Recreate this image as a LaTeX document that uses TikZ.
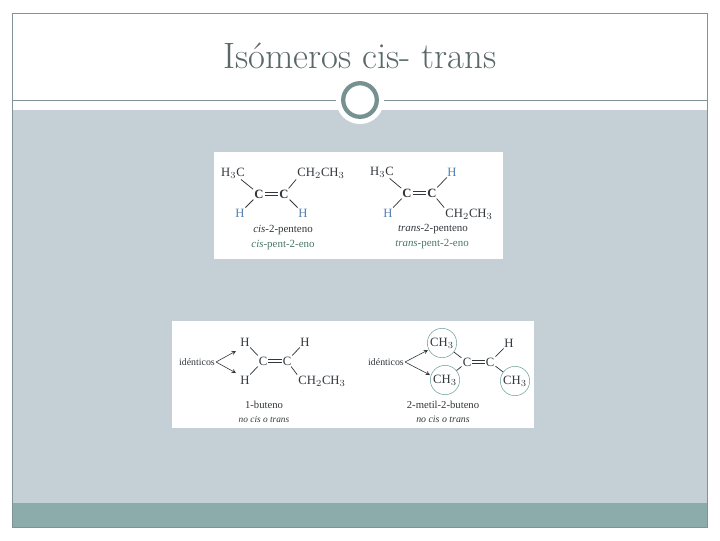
\documentclass[tikz,border=0pt]{standalone}
\usepackage{fontspec}
\newfontfamily\molfont{Liberation Serif}
\definecolor{slidegray}{RGB}{196,208,214}
\definecolor{slideband}{RGB}{140,171,171}
\definecolor{slideline}{RGB}{128,148,148}
\definecolor{hblue}{RGB}{84,128,178}
\definecolor{namegreen}{RGB}{70,120,105}
\definecolor{ringteal}{RGB}{112,160,155}
\definecolor{molink}{RGB}{50,55,60}
\tikzset{
  atom/.style={inner sep=0.75pt,font=\molfont\fontsize{9.5pt}{10pt}\selectfont,text=molink},
  hatom/.style={atom,text=hblue},
  caption/.style={inner sep=0.75pt,font=\molfont\fontsize{8.2pt}{9pt}\selectfont,text=molink},
  smallcaption/.style={inner sep=0.75pt,font=\molfont\fontsize{7.4pt}{8pt}\selectfont,text=molink},
  ringed/.style={atom,draw=ringteal,circle,minimum size=22pt,inner sep=0pt},
  bond/.style={draw=molink,line width=0.55pt},
  pointer/.style={draw=molink,line width=0.45pt,-stealth}
}
\newcommand{\dblbond}[2]{%
  \draw [bond] ([yshift=-0.9pt]#1.east) -- ([yshift=-0.9pt]#2.west);
  \draw [bond] ([yshift=0.9pt]#1.east) -- ([yshift=0.9pt]#2.west);}
\begin{document}
\begin{tikzpicture}[x=0.75pt,y=0.75pt,yscale=-1]
\useasboundingbox (0,0) rectangle (720,540);

%Shape: slide
\fill [white] (0,0) rectangle (720,540);
\fill [slidegray] (12,110) rectangle (707,503);
\fill [slideband] (12,503) rectangle (707,527);
\draw [slideline,line width=0.7pt] (12,13) rectangle (707,527);
\draw [slideline,line width=0.7pt] (12,100) -- (707,100);

%Shape: ring
\fill [white] (360,100) circle [radius=24];
\draw [slideband!85!black,line width=3.2pt] (360,100) circle [radius=16.8];

%Shape: panels
\fill [white] (214,152) rectangle (503,259);
\fill [white] (172,321) rectangle (534,428);

% Text Node
\draw (360,56) node (title) [inner sep=0.75pt,font=\fontsize{27.5pt}{30pt}\selectfont,text=slideline!70!black] {Isómeros cis- trans};

% cis
\draw (233,173) node (hca) [atom] {H$_3$C};
\draw (259,194) node (ca) [atom] {\textbf{C}};
\draw (284,194) node (cb) [atom] {\textbf{C}};
\draw (321,173) node (ethb) [atom] {CH$_2$CH$_3$};
\draw (240,213) node (ha) [hatom] {H};
\draw (303,213) node (hb) [hatom] {H};
\draw (283,230) node (namea) [caption] {\textit{cis}-2-penteno};
\draw (283,245) node (nameb) [caption,text=namegreen] {\textit{cis}-pent-2-eno};
\dblbond{ca}{cb}
\draw [bond] (hca) -- (ca);
\draw [bond] (ha) -- (ca);
\draw [bond] (cb) -- (ethb.south west);
\draw [bond] (cb) -- (hb);

% trans
\draw (382,172) node (hcc) [atom] {H$_3$C};
\draw (407,193) node (cc) [atom] {\textbf{C}};
\draw (432,193) node (cd) [atom] {\textbf{C}};
\draw (452,172) node (hd) [hatom] {H};
\draw (388,213) node (hc) [hatom] {H};
\draw (469,214) node (ethd) [atom] {CH$_2$CH$_3$};
\draw (433,229) node (namec) [caption] {\textit{trans}-2-penteno};
\draw (432,244) node (named) [caption,text=namegreen] {\textit{trans}-pent-2-eno};
\dblbond{cc}{cd}
\draw [bond] (hcc) -- (cc);
\draw [bond] (hc) -- (cc);
\draw [bond] (cd) -- (hd);
\draw [bond] (cd) -- (ethd.north west);

% 1-buteno
\draw (197,362) node (ideqa) [smallcaption] {idénticos};
\draw (245,342) node (he) [atom] {H};
\draw (245,380) node (hf) [atom] {H};
\draw (263,361) node (ce) [atom] {C};
\draw (287,361) node (cf) [atom] {C};
\draw (305,342) node (hg) [atom] {H};
\draw (322,381) node (ethf) [atom] {CH$_2$CH$_3$};
\draw (264,405) node (namee) [caption,font=\molfont\fontsize{8pt}{9pt}\selectfont] {1-buteno};
\draw (264,419) node (namef) [smallcaption,font=\molfont\fontsize{7pt}{8pt}\selectfont] {\textit{no cis o trans}};
\dblbond{ce}{cf}
\draw [bond] (he) -- (ce);
\draw [bond] (hf) -- (ce);
\draw [bond] (cf) -- (hg);
\draw [bond] (cf) -- (ethf.north west);
\coordinate (tipa) at (236,351);
\coordinate (tipb) at (236,373);
\draw [pointer] (ideqa.east) -- (tipa);
\draw [pointer] (ideqa.east) -- (tipb);

% 2-metil-2-buteno
\draw (386,362) node (ideqb) [smallcaption] {idénticos};
\draw (442,343) node (mea) [ringed] {CH$_3$};
\draw (445,380) node (meb) [ringed] {CH$_3$};
\draw (467,362) node (cg) [atom] {C};
\draw (490,362) node (ch) [atom] {C};
\draw (509,343) node (hh) [atom] {H};
\draw (515,381) node (mec) [ringed] {CH$_3$};
\draw (443,405) node (nameg) [caption,font=\molfont\fontsize{8pt}{9pt}\selectfont] {2-metil-2-buteno};
\draw (443,419) node (nameh) [smallcaption] {\textit{no cis o trans}};
\dblbond{cg}{ch}
\draw [bond] (mea) -- (cg);
\draw [bond] (meb) -- (cg);
\draw [bond] (ch) -- (hh);
\draw [bond] (ch) -- (mec);
\coordinate (tipc) at (428,350);
\coordinate (tipd) at (430,375);
\draw [pointer] (ideqb.east) -- (tipc);
\draw [pointer] (ideqb.east) -- (tipd);

\end{tikzpicture}
\end{document}
